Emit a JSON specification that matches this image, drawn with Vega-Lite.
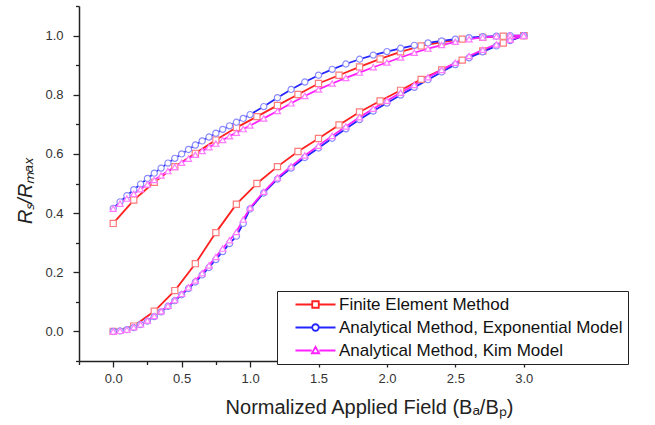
{
  "$schema": "https://vega.github.io/schema/vega-lite/v6.json",
  "width": 479,
  "height": 355,
  "autosize": {"type": "none"},
  "padding": {"left": 79, "top": 6, "right": 97, "bottom": 64},
  "background": "white",
  "config": {
    "view": {"stroke": null},
    "font": "Liberation Sans",
    "legend": {
      "title": null,
      "orient": "none", "legendX": 198, "legendY": 285,
      "direction": "vertical",
      "fillColor": "white", "strokeColor": "#222", "strokeWidth": 1,
      "padding": 5, "rowPadding": 5,
      "symbolSize": 100, "symbolOffset": 25, "labelOffset": 15,
      "labelFont": "Liberation Sans", "labelFontSize": 17, "labelColor": "#111", "labelLimit": 600
    }
  },
  "datasets": {
    "curves": [
      {"s":"F","b":"u","x":0,"y":0.365},{"s":"F","b":"u","x":0.15,"y":0.444},{"s":"F","b":"u","x":0.3,"y":0.504},{"s":"F","b":"u","x":0.45,"y":0.557},{"s":"F","b":"u","x":0.6,"y":0.602},{"s":"F","b":"u","x":0.75,"y":0.647},{"s":"F","b":"u","x":0.9,"y":0.689},{"s":"F","b":"u","x":1.05,"y":0.726},{"s":"F","b":"u","x":1.2,"y":0.764},{"s":"F","b":"u","x":1.35,"y":0.801},{"s":"F","b":"u","x":1.5,"y":0.838},{"s":"F","b":"u","x":1.65,"y":0.866},{"s":"F","b":"u","x":1.8,"y":0.894},{"s":"F","b":"u","x":1.95,"y":0.921},{"s":"F","b":"u","x":2.1,"y":0.945},{"s":"F","b":"u","x":2.25,"y":0.965},{"s":"F","b":"u","x":2.4,"y":0.978},{"s":"F","b":"u","x":2.55,"y":0.988},{"s":"F","b":"u","x":2.7,"y":0.994},{"s":"F","b":"u","x":2.85,"y":0.998},{"s":"F","b":"u","x":3.0,"y":1.0},
      {"s":"F","b":"l","x":0,"y":0},{"s":"F","b":"l","x":0.15,"y":0.018},{"s":"F","b":"l","x":0.3,"y":0.068},{"s":"F","b":"l","x":0.45,"y":0.138},{"s":"F","b":"l","x":0.6,"y":0.229},{"s":"F","b":"l","x":0.75,"y":0.334},{"s":"F","b":"l","x":0.9,"y":0.43},{"s":"F","b":"l","x":1.05,"y":0.5},{"s":"F","b":"l","x":1.2,"y":0.557},{"s":"F","b":"l","x":1.35,"y":0.608},{"s":"F","b":"l","x":1.5,"y":0.652},{"s":"F","b":"l","x":1.65,"y":0.698},{"s":"F","b":"l","x":1.8,"y":0.742},{"s":"F","b":"l","x":1.95,"y":0.779},{"s":"F","b":"l","x":2.1,"y":0.815},{"s":"F","b":"l","x":2.25,"y":0.852},{"s":"F","b":"l","x":2.4,"y":0.884},{"s":"F","b":"l","x":2.55,"y":0.917},{"s":"F","b":"l","x":2.7,"y":0.948},{"s":"F","b":"l","x":2.85,"y":0.975},{"s":"F","b":"l","x":3.0,"y":1.0},
      {"s":"E","b":"u","x":0,"y":0.416},{"s":"E","b":"u","x":0.05,"y":0.438},{"s":"E","b":"u","x":0.1,"y":0.459},{"s":"E","b":"u","x":0.15,"y":0.479},{"s":"E","b":"u","x":0.2,"y":0.498},{"s":"E","b":"u","x":0.25,"y":0.517},{"s":"E","b":"u","x":0.3,"y":0.535},{"s":"E","b":"u","x":0.35,"y":0.552},{"s":"E","b":"u","x":0.4,"y":0.569},{"s":"E","b":"u","x":0.45,"y":0.585},{"s":"E","b":"u","x":0.5,"y":0.6},{"s":"E","b":"u","x":0.55,"y":0.615},{"s":"E","b":"u","x":0.6,"y":0.63},{"s":"E","b":"u","x":0.65,"y":0.644},{"s":"E","b":"u","x":0.7,"y":0.657},{"s":"E","b":"u","x":0.75,"y":0.67},{"s":"E","b":"u","x":0.8,"y":0.683},{"s":"E","b":"u","x":0.85,"y":0.695},{"s":"E","b":"u","x":0.9,"y":0.707},{"s":"E","b":"u","x":0.95,"y":0.72},{"s":"E","b":"u","x":1.0,"y":0.733},
      {"s":"E","b":"u","x":1.1,"y":0.76},{"s":"E","b":"u","x":1.2,"y":0.79},{"s":"E","b":"u","x":1.3,"y":0.818},{"s":"E","b":"u","x":1.4,"y":0.843},{"s":"E","b":"u","x":1.5,"y":0.866},{"s":"E","b":"u","x":1.6,"y":0.886},{"s":"E","b":"u","x":1.7,"y":0.904},{"s":"E","b":"u","x":1.8,"y":0.92},{"s":"E","b":"u","x":1.9,"y":0.934},{"s":"E","b":"u","x":2.0,"y":0.946},{"s":"E","b":"u","x":2.1,"y":0.957},{"s":"E","b":"u","x":2.2,"y":0.967},{"s":"E","b":"u","x":2.3,"y":0.975},{"s":"E","b":"u","x":2.4,"y":0.982},{"s":"E","b":"u","x":2.5,"y":0.988},{"s":"E","b":"u","x":2.6,"y":0.993},{"s":"E","b":"u","x":2.7,"y":0.996},{"s":"E","b":"u","x":2.8,"y":0.998},{"s":"E","b":"u","x":2.9,"y":1.0},{"s":"E","b":"u","x":3.0,"y":1.0},
      {"s":"E","b":"l","x":0,"y":0},{"s":"E","b":"l","x":0.05,"y":0.002},{"s":"E","b":"l","x":0.1,"y":0.006},{"s":"E","b":"l","x":0.15,"y":0.013},{"s":"E","b":"l","x":0.2,"y":0.023},{"s":"E","b":"l","x":0.25,"y":0.035},{"s":"E","b":"l","x":0.3,"y":0.05},{"s":"E","b":"l","x":0.35,"y":0.066},{"s":"E","b":"l","x":0.4,"y":0.085},{"s":"E","b":"l","x":0.45,"y":0.104},{"s":"E","b":"l","x":0.5,"y":0.124},{"s":"E","b":"l","x":0.55,"y":0.145},{"s":"E","b":"l","x":0.6,"y":0.167},{"s":"E","b":"l","x":0.65,"y":0.191},{"s":"E","b":"l","x":0.7,"y":0.216},{"s":"E","b":"l","x":0.75,"y":0.243},{"s":"E","b":"l","x":0.8,"y":0.27},{"s":"E","b":"l","x":0.85,"y":0.297},{"s":"E","b":"l","x":0.9,"y":0.322},{"s":"E","b":"l","x":0.95,"y":0.365},{"s":"E","b":"l","x":1.0,"y":0.414},
      {"s":"E","b":"l","x":1.1,"y":0.468},{"s":"E","b":"l","x":1.2,"y":0.515},{"s":"E","b":"l","x":1.3,"y":0.552},{"s":"E","b":"l","x":1.4,"y":0.588},{"s":"E","b":"l","x":1.5,"y":0.62},{"s":"E","b":"l","x":1.6,"y":0.653},{"s":"E","b":"l","x":1.7,"y":0.685},{"s":"E","b":"l","x":1.8,"y":0.716},{"s":"E","b":"l","x":1.9,"y":0.745},{"s":"E","b":"l","x":2.0,"y":0.772},{"s":"E","b":"l","x":2.1,"y":0.799},{"s":"E","b":"l","x":2.2,"y":0.825},{"s":"E","b":"l","x":2.3,"y":0.851},{"s":"E","b":"l","x":2.4,"y":0.877},{"s":"E","b":"l","x":2.5,"y":0.902},{"s":"E","b":"l","x":2.6,"y":0.925},{"s":"E","b":"l","x":2.7,"y":0.945},{"s":"E","b":"l","x":2.8,"y":0.965},{"s":"E","b":"l","x":2.9,"y":0.983},{"s":"E","b":"l","x":3.0,"y":1.0},
      {"s":"K","b":"u","x":0,"y":0.415},{"s":"K","b":"u","x":0.05,"y":0.432},{"s":"K","b":"u","x":0.1,"y":0.449},{"s":"K","b":"u","x":0.15,"y":0.465},{"s":"K","b":"u","x":0.2,"y":0.481},{"s":"K","b":"u","x":0.25,"y":0.497},{"s":"K","b":"u","x":0.3,"y":0.512},{"s":"K","b":"u","x":0.35,"y":0.527},{"s":"K","b":"u","x":0.4,"y":0.542},{"s":"K","b":"u","x":0.45,"y":0.556},{"s":"K","b":"u","x":0.5,"y":0.57},{"s":"K","b":"u","x":0.55,"y":0.584},{"s":"K","b":"u","x":0.6,"y":0.597},{"s":"K","b":"u","x":0.65,"y":0.61},{"s":"K","b":"u","x":0.7,"y":0.623},{"s":"K","b":"u","x":0.75,"y":0.635},{"s":"K","b":"u","x":0.8,"y":0.647},{"s":"K","b":"u","x":0.85,"y":0.66},{"s":"K","b":"u","x":0.9,"y":0.672},{"s":"K","b":"u","x":0.95,"y":0.684},{"s":"K","b":"u","x":1.0,"y":0.696},
      {"s":"K","b":"u","x":1.1,"y":0.72},{"s":"K","b":"u","x":1.2,"y":0.745},{"s":"K","b":"u","x":1.3,"y":0.771},{"s":"K","b":"u","x":1.4,"y":0.796},{"s":"K","b":"u","x":1.5,"y":0.818},{"s":"K","b":"u","x":1.6,"y":0.838},{"s":"K","b":"u","x":1.7,"y":0.857},{"s":"K","b":"u","x":1.8,"y":0.875},{"s":"K","b":"u","x":1.9,"y":0.893},{"s":"K","b":"u","x":2.0,"y":0.909},{"s":"K","b":"u","x":2.1,"y":0.926},{"s":"K","b":"u","x":2.2,"y":0.942},{"s":"K","b":"u","x":2.3,"y":0.956},{"s":"K","b":"u","x":2.4,"y":0.968},{"s":"K","b":"u","x":2.5,"y":0.979},{"s":"K","b":"u","x":2.6,"y":0.988},{"s":"K","b":"u","x":2.7,"y":0.994},{"s":"K","b":"u","x":2.8,"y":0.998},{"s":"K","b":"u","x":2.9,"y":1.0},{"s":"K","b":"u","x":3.0,"y":1.0},
      {"s":"K","b":"l","x":0,"y":0},{"s":"K","b":"l","x":0.05,"y":0.002},{"s":"K","b":"l","x":0.1,"y":0.006},{"s":"K","b":"l","x":0.15,"y":0.014},{"s":"K","b":"l","x":0.2,"y":0.024},{"s":"K","b":"l","x":0.25,"y":0.037},{"s":"K","b":"l","x":0.3,"y":0.052},{"s":"K","b":"l","x":0.35,"y":0.068},{"s":"K","b":"l","x":0.4,"y":0.087},{"s":"K","b":"l","x":0.45,"y":0.106},{"s":"K","b":"l","x":0.5,"y":0.127},{"s":"K","b":"l","x":0.55,"y":0.149},{"s":"K","b":"l","x":0.6,"y":0.172},{"s":"K","b":"l","x":0.65,"y":0.197},{"s":"K","b":"l","x":0.7,"y":0.223},{"s":"K","b":"l","x":0.75,"y":0.252},{"s":"K","b":"l","x":0.8,"y":0.28},{"s":"K","b":"l","x":0.85,"y":0.308},{"s":"K","b":"l","x":0.9,"y":0.336},{"s":"K","b":"l","x":0.95,"y":0.378},{"s":"K","b":"l","x":1.0,"y":0.418},
      {"s":"K","b":"l","x":1.1,"y":0.472},{"s":"K","b":"l","x":1.2,"y":0.52},{"s":"K","b":"l","x":1.3,"y":0.558},{"s":"K","b":"l","x":1.4,"y":0.595},{"s":"K","b":"l","x":1.5,"y":0.628},{"s":"K","b":"l","x":1.6,"y":0.661},{"s":"K","b":"l","x":1.7,"y":0.693},{"s":"K","b":"l","x":1.8,"y":0.724},{"s":"K","b":"l","x":1.9,"y":0.753},{"s":"K","b":"l","x":2.0,"y":0.78},{"s":"K","b":"l","x":2.1,"y":0.807},{"s":"K","b":"l","x":2.2,"y":0.833},{"s":"K","b":"l","x":2.3,"y":0.859},{"s":"K","b":"l","x":2.4,"y":0.884},{"s":"K","b":"l","x":2.5,"y":0.908},{"s":"K","b":"l","x":2.6,"y":0.931},{"s":"K","b":"l","x":2.7,"y":0.952},{"s":"K","b":"l","x":2.8,"y":0.97},{"s":"K","b":"l","x":2.9,"y":0.986},{"s":"K","b":"l","x":3.0,"y":1.0}
    ]
  },
  "data": {"name": "curves"},
  "encoding": {
    "x": {
      "field": "x", "type": "quantitative",
      "scale": {"domain": [-0.25, 3.25], "nice": false, "zero": false},
      "axis": {
        "values": [-0.25, 0, 0.25, 0.5, 0.75, 1, 1.25, 1.5, 1.75, 2, 2.25, 2.5, 2.75, 3, 3.25],
        "labelExpr": "round(datum.value*4) % 2 == 0 ? format(datum.value, '.1f') : ''",
        "tickSize": {"condition": {"test": "round(datum.value*4) % 2 == 0", "value": 6}, "value": 3.5},
        "grid": false,
        "domainColor": "#222", "domainWidth": 1.5,
        "tickColor": "#222", "tickWidth": 1.3,
        "labelFont": "Liberation Sans", "labelFontSize": 13, "labelColor": "#333",
        "labelPadding": 5, "labelFlush": false, "labelOverlap": false,
        "title": "Normalized Applied Field (Bₐ/Bₚ)",
        "titleFont": "Liberation Sans", "titleFontSize": 20, "titleFontWeight": "normal", "titleColor": "#222",
        "titleX": 290, "titleY": 52, "titleBaseline": "alphabetic", "titleAlign": "center"
      }
    },
    "y": {
      "field": "y", "type": "quantitative",
      "scale": {"domain": [-0.1, 1.1], "nice": false, "zero": false},
      "axis": {
        "values": [-0.1, 0, 0.1, 0.2, 0.3, 0.4, 0.5, 0.6, 0.7, 0.8, 0.9, 1.0, 1.1],
        "labelExpr": "round(datum.value*10) % 2 == 0 ? format(datum.value, '.1f') : ''",
        "tickSize": {"condition": {"test": "round(datum.value*10) % 2 == 0", "value": 6}, "value": 3.5},
        "grid": false,
        "domainColor": "#222", "domainWidth": 1.5,
        "tickColor": "#222", "tickWidth": 1.3,
        "labelFont": "Liberation Sans", "labelFontSize": 13, "labelColor": "#333",
        "labelPadding": 10, "labelFlush": false, "labelOverlap": false,
        "title": "Rₛ/Rₘₐₓ",
        "titleFont": "Liberation Sans", "titleFontSize": 20, "titleFontWeight": "normal", "titleFontStyle": "italic", "titleColor": "#222",
        "titleX": -48, "titleY": 184, "titleBaseline": "alphabetic", "titleAlign": "center", "titleAngle": -90
      }
    }
  },
  "layer": [
    {
      "mark": {"type": "line", "strokeWidth": 1.8},
      "encoding": {
        "color": {
          "field": "s", "type": "nominal",
          "scale": {"domain": ["F", "E", "K"], "range": ["#ff2020", "#2424ff", "#ff20ff"]},
          "legend": {
            "title": null,
            "orient": "none", "legendX": 198, "legendY": 285,
            "labelExpr": "(datum.value == 'F' ? 'Finite Element Method' : datum.value == 'E' ? 'Analytical Method, Exponential Model' : 'Analytical Method, Kim Model') + '\u00a0\u00a0\u00a0\u00a0\u00a0'",
            "encode": {
              "symbols": {
                "update": {
                  "shape": {"signal": "datum.value == 'F' ? 'M-4,0H-0.7M0.7,0H4M-0.65,-0.65H0.65V0.65H-0.65Z' : datum.value == 'E' ? 'M-4,0H-0.72M0.72,0H4M0.65,0A0.65,0.65,0,1,1,-0.65,0A0.65,0.65,0,1,1,0.65,0Z' : 'M-4,0H-0.75M0.75,0H4M0,-0.72L0.72,0.55H-0.72Z'"},
                  "fill": {"value": "white"},
                  "strokeWidth": {"value": 1.8},
                  "size": {"value": 100},
                  "opacity": {"value": 1}
                }
              }
            }
          }
        },
        "detail": {"field": "b"},
        "order": {"field": "x", "type": "quantitative"}
      }
    },
    {
      "transform": [{"filter": "datum.s == 'F'"}],
      "mark": {"type": "point", "shape": "square", "filled": true, "fill": "white", "stroke": "#ff7a7a", "size": 38, "strokeWidth": 1.2, "opacity": 1}
    },
    {
      "transform": [{"filter": "datum.s == 'E'"}],
      "mark": {"type": "point", "shape": "circle", "filled": true, "fill": "white", "stroke": "#8a8aff", "size": 38, "strokeWidth": 1.2, "opacity": 1}
    },
    {
      "transform": [{"filter": "datum.s == 'K'"}],
      "mark": {"type": "point", "shape": "triangle-up", "filled": true, "fill": "white", "stroke": "#ff7aff", "size": 38, "strokeWidth": 1.2, "opacity": 1}
    }
  ]
}
